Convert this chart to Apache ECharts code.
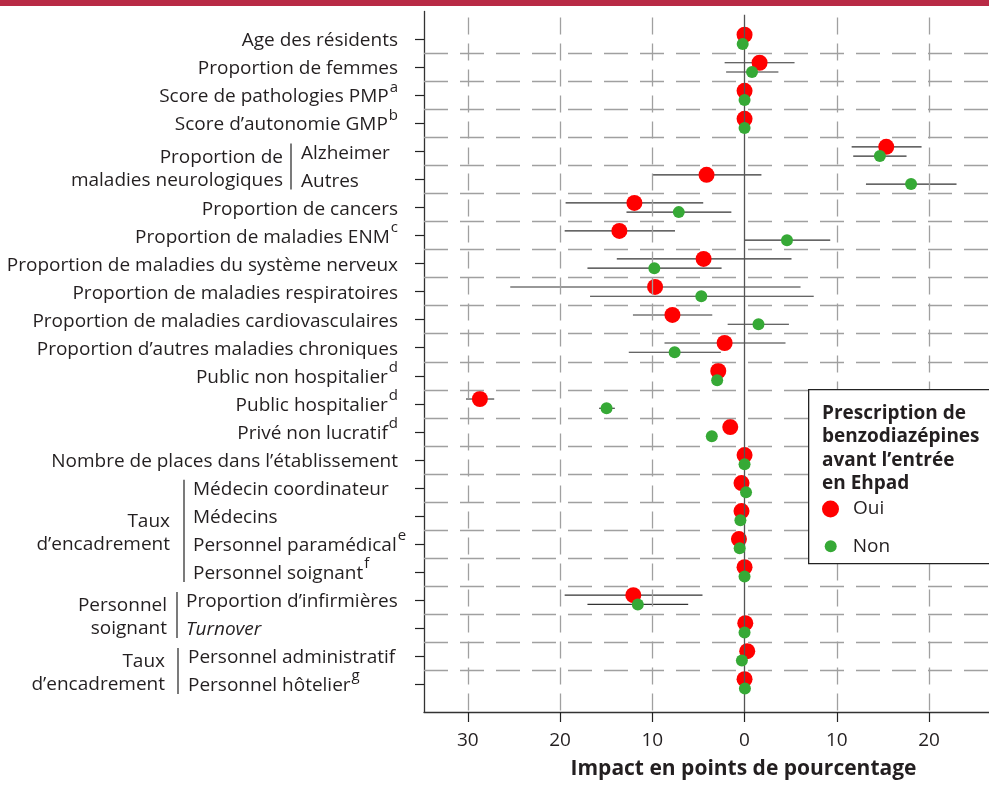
<!DOCTYPE html>
<html><head><meta charset="utf-8">
<script src="https://cdn.jsdelivr.net/npm/echarts@6/dist/echarts.min.js"></script>
<style>html,body{margin:0;padding:0;background:#fff}#c{width:989px;height:785px}</style>
</head><body><div id="c"></div>
<script>
// ---------- data ----------
const rows = ['Age des résidents','Proportion de femmes','Score de pathologies PMP','Score d’autonomie GMP',
  'Alzheimer','Autres','Proportion de cancers','Proportion de maladies ENM',
  'Proportion de maladies du système nerveux','Proportion de maladies respiratoires',
  'Proportion de maladies cardiovasculaires','Proportion d’autres maladies chroniques',
  'Public non hospitalier','Public hospitalier','Privé non lucratif','Nombre de places dans l’établissement',
  'Médecin coordinateur','Médecins','Personnel paramédical','Personnel soignant',
  'Proportion d’infirmières','Turnover','Personnel administratif','Personnel hôtelier'];
const notes = ['','','a','b','','','','c','','','','','d','d','d','','','','e','f','','','','g'];
const italicRows = ['Turnover'];
const groups = [
  {first:5, last:6, lines:['Proportion de','maladies neurologiques']},
  {first:17, last:20, lines:['Taux','d’encadrement']},
  {first:21, last:22, lines:['Personnel','soignant']},
  {first:23, last:24, lines:['Taux','d’encadrement']}
];
const ouiValues = [0, 1.63, 0, 0, 15.36, -4.12, -11.94, -13.57, -4.44, -9.7, -7.82, -2.16, -2.85, -28.69, -1.55, 0, -0.33, -0.33, -0.61, 0, -12.06, 0.08, 0.29, 0];
const ouiLow  = [null, -2.16, null, null, 11.61, -10.02, -19.4, -19.5, -13.85, -25.4, -12.1, -8.68, null, -30.2, null, null, null, null, null, null, -19.5, null, null, null];
const ouiHigh = [null, 5.42, null, null, 19.19, 1.83, -4.48, -7.54, 5.09, 6.07, -3.5, 4.44, null, -27.14, null, null, null, null, null, null, -4.56, null, null, null];
const nonValues = [-0.2, 0.81, 0, 0, 14.67, 18.05, -7.13, 4.6, -9.78, -4.69, 1.51, -7.58, -2.97, -14.96, -3.55, 0, 0.16, -0.45, -0.53, 0, -11.57, 0, -0.29, 0.04];
const nonLow  = [null, -2.0, null, null, 11.78, 13.16, -12.8, 0, -17.03, -16.75, -1.83, -12.55, null, -15.77, null, null, null, null, null, null, -17.03, null, null, null];
const nonHigh = [null, 3.67, null, null, 17.56, 22.98, -1.43, 9.29, -2.49, 7.5, 4.81, -2.57, null, -14.06, null, null, null, null, null, null, -6.11, null, null, null];
const xTicks = [-30, -20, -10, 0, 10, 20];
const legendTitle = ['Prescription de','benzodiazépines','avant l’entrée','en Ehpad'];
const seriesNames = ['Oui','Non'];
const xName = 'Impact en points de pourcentage';

// ---------- layout / style ----------
const FONT = 'Open Sans';
const FS = 19;
const TXT = '#231f20';
const RED = '#ff0000', GREEN = '#36a936';
const ouiOffset = -0.17, nonOffset = 0.16;
const groupLayout = [
  {textRight:283, bracketX:291, innerLeft:301},
  {textRight:170, bracketX:184, innerLeft:193},
  {textRight:167, bracketX:177, innerLeft:186},
  {textRight:165, bracketX:178, innerLeft:188}
];
const inGroup = new Set();
groups.forEach(g => { for (let r = g.first; r <= g.last; r++) inGroup.add(r); });

function richLabel(i) {
  const key = italicRows.includes(rows[i]) ? 'mi' : 'm';
  let s = '{' + key + '|' + rows[i] + '}';
  if (notes[i]) s += '{s|' + notes[i] + '}';
  return s;
}
const richAxis = {
  m: {fontSize: FS, fontFamily: FONT, color: TXT, lineHeight: 36},
  mi: {fontSize: FS, fontFamily: FONT, color: TXT, lineHeight: 36, fontStyle: 'italic'},
  s: {fontSize: 15, fontFamily: FONT, color: TXT, lineHeight: 15, verticalAlign: 'top', padding: [1, 0, 0, 1]}
};
const richCustom = {
  m: {fontSize: FS, fontFamily: FONT, fill: TXT, lineHeight: 36},
  mi: {fontSize: FS, fontFamily: FONT, fill: TXT, lineHeight: 36, fontStyle: 'italic'},
  s: {fontSize: 15, fontFamily: FONT, fill: TXT, lineHeight: 15, verticalAlign: 'top', padding: [1, 0, 0, 1]}
};

const rowValues = rows.map((_, i) => i + 1);
const hGrid = rows.slice(1).map((_, i) => ({yAxis: i + 1.5, lineStyle: {type: [24, 12], color: '#a0a0a0', width: 1.3}}));
const vGrid = xTicks.filter(v => v !== 0).map(v => ({xAxis: v, lineStyle: {type: [17, 9], dashOffset: 20, color: '#a0a0a0', width: 1.3}}));
const zeroLine = [{coord: [0, 0.12], lineStyle: {type: 'solid', color: '#555', width: 1.3}}, {coord: [0, 25]}];

function errData(low, high, off) {
  const out = [];
  low.forEach((l, i) => { if (l != null) out.push([l, high[i], i + 1 + off]); });
  return out;
}
function errRender(params, api) {
  const a = api.coord([api.value(0), api.value(2)]);
  const b = api.coord([api.value(1), api.value(2)]);
  return {type: 'line', shape: {x1: a[0], y1: a[1], x2: b[0], y2: b[1]}, style: {stroke: '#333', lineWidth: 1.1}};
}

const chart = echarts.init(document.getElementById('c'), null, {renderer: 'canvas'});
chart.setOption({
  animation: false,
  backgroundColor: '#fff',
  grid: {left: 424, right: 0, top: 11.5, bottom: 68, containLabel: false},
  xAxis: {
    type: 'value', min: -34.75, max: 26.5,
    axisLine: {show: true, onZero: false, lineStyle: {color: '#333', width: 1.3}},
    axisTick: {show: true, customValues: xTicks, length: 10, lineStyle: {color: '#222', width: 1.2}},
    axisLabel: {customValues: xTicks, formatter: v => String(Math.abs(v)), margin: 19, fontSize: FS, fontFamily: FONT, color: TXT},
    splitLine: {show: false},
    name: xName, nameLocation: 'middle', nameGap: 47,
    nameTextStyle: {fontWeight: 'bold', fontSize: 21, fontFamily: FONT, color: TXT, padding: [0, 0, 0, 74]}
  },
  yAxis: {
    type: 'value', inverse: true, min: 0, max: 25,
    axisLine: {show: true, onZero: false, lineStyle: {color: '#333', width: 1.3}},
    axisTick: {show: true, customValues: rowValues, length: 9, lineStyle: {color: '#222', width: 1.2}},
    axisLabel: {
      customValues: rowValues, margin: 26, padding: [3, 0, 0, 0],
      formatter: v => (inGroup.has(v) ? '' : richLabel(v - 1)),
      rich: richAxis
    },
    splitLine: {show: false}
  },
  legend: [
    {data: [seriesNames[0]], left: 822, top: 499.5, padding: 0, itemWidth: 17, itemHeight: 17, icon: 'circle', z: 12,
     textStyle: {fontSize: FS, fontFamily: FONT, color: TXT, padding: [5, 0, 0, 9]}},
    {data: [seriesNames[1]], left: 824.7, top: 536.7, padding: 0, itemWidth: 12, itemHeight: 12, icon: 'circle', z: 12,
     textStyle: {fontSize: FS, fontFamily: FONT, color: TXT, padding: [0, 0, 0, 11]}}
  ],
  graphic: [
    {type: 'rect', left: 0, top: 0, z: 20, shape: {width: 989, height: 6}, style: {fill: '#b82a45'}},
    {type: 'rect', left: 808, top: 389, z: 10, shape: {width: 200, height: 174}, style: {fill: '#fff', stroke: '#222', lineWidth: 1.3}},
    {type: 'text', left: 822, top: 402, z: 11, style: {text: legendTitle.join('\n'), fontSize: FS, fontWeight: 'bold', fontFamily: FONT, fill: TXT, lineHeight: 23.3}}
  ],
  series: [
    {name: 'grid', type: 'scatter', data: [], z: 1, silent: true,
     markLine: {silent: true, symbol: 'none', label: {show: false}, animation: false,
       data: hGrid.concat(vGrid).concat([zeroLine])}},
    {name: 'errOui', type: 'custom', z: 3, data: errData(ouiLow, ouiHigh, ouiOffset), encode: {x: [0, 1], y: 2}, renderItem: errRender, silent: true},
    {name: 'errNon', type: 'custom', z: 3, data: errData(nonLow, nonHigh, nonOffset), encode: {x: [0, 1], y: 2}, renderItem: errRender, silent: true},
    {name: seriesNames[0], type: 'scatter', z: 4, symbolSize: 16, itemStyle: {color: RED, opacity: 1},
     data: ouiValues.map((v, i) => [v, i + 1 + ouiOffset])},
    {name: seriesNames[1], type: 'scatter', z: 5, symbolSize: 12, itemStyle: {color: GREEN, opacity: 1},
     data: nonValues.map((v, i) => [v, i + 1 + nonOffset])},
    {name: 'groups', type: 'custom', z: 6, clip: false, silent: true,
     data: groups.map((g, i) => [0, g.first, i]), encode: {x: 0, y: 1},
     renderItem: function (params, api) {
       const gi = api.value(2);
       const g = groups[gi], L = groupLayout[gi];
       const y1 = api.coord([0, g.first])[1], y2 = api.coord([0, g.last])[1];
       const mid = (y1 + y2) / 2;
       const children = [
         {type: 'line', shape: {x1: L.bracketX, y1: y1 - 8, x2: L.bracketX, y2: y2 + 10}, style: {stroke: '#222', lineWidth: 1.2}},
         {type: 'text', style: {text: g.lines.join('\n'), x: L.textRight, y: mid + 3, align: 'right', verticalAlign: 'middle',
           fontSize: FS, fontFamily: FONT, fill: TXT, lineHeight: 23}}
       ];
       for (let r = g.first; r <= g.last; r++) {
         const y = api.coord([0, r])[1];
         children.push({type: 'text', style: {text: richLabel(r - 1), rich: richCustom, x: L.innerLeft, y: y + 1.5, align: 'left', verticalAlign: 'middle'}});
       }
       return {type: 'group', children: children};
     }}
  ]
});
</script></body></html>
